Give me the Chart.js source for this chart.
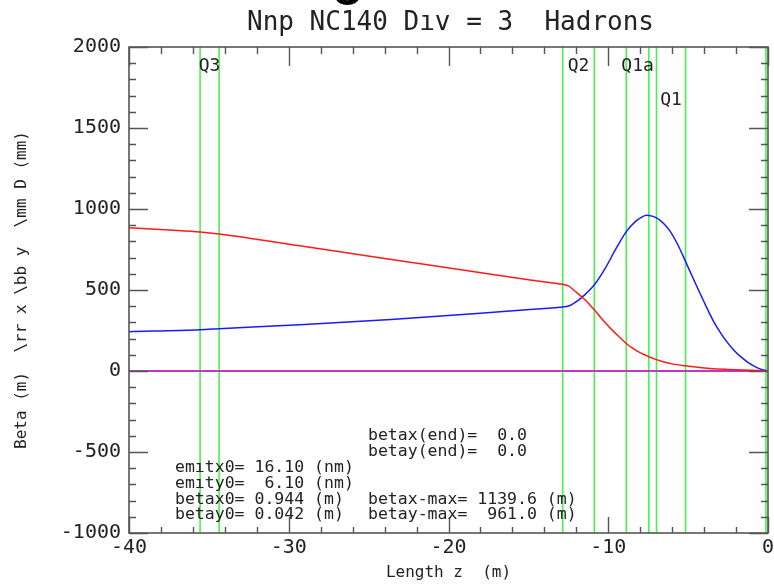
<!DOCTYPE html>
<html>
<head>
<meta charset="utf-8">
<script src="https://cdn.jsdelivr.net/npm/chart.js@4.4.1/dist/chart.umd.min.js"></script>
<style>
  html, body { margin: 0; padding: 0; background: #fff; }
  canvas { display: block; }
</style>
</head>
<body>
<canvas id="c" width="774" height="585"></canvas>
<script>
// Horizontal beta function (red)
const zBetaX = [-40, -37.5, -35.55, -34.36, -29, -24, -19, -14.89, -13.32, -12.85, -12.5, -12.07,
                -11.44, -10.88, -10.19, -9.56, -8.87, -8.5, -8.10, -7.45, -6.98, -6.5, -6.0, -5.18,
                -4.4, -3.61, -2.5, -1.54, -0.27, 0];
const betaX  = [884, 870, 858, 846, 768, 694, 622, 562, 541, 535, 525, 492,
                438, 378, 298, 234, 170, 143, 118, 88, 70, 55, 44, 32,
                23, 16, 10, 6, 2, 0];

// Vertical beta function (blue)
const zBetaY = [-40, -35.55, -34.36, -29, -23.6, -18, -14.89, -13.32, -12.85, -12.49, -11.86, -11.44,
                -10.88, -10.19, -9.56, -8.87, -8.31, -7.9, -7.6, -7.26, -6.98, -6.74, -6.43, -6.12,
                -5.70, -5.18, -4.66, -4.03, -3.40, -2.98, -2.56, -2.15, -1.73, -1.3, -0.90, -0.5,
                -0.27, 0];
const betaY  = [243, 255, 261, 287, 318, 356, 380, 391, 395, 401, 438, 473,
                531, 634, 747, 860, 922, 950, 961, 956, 945, 928, 900, 862,
                790, 680, 566, 432, 305, 237, 178, 130, 90, 57, 32, 13,
                6, 0];

// Dispersion (magenta)
const zDisp = [-40, 0];
const disp  = [0, 0];

// Magnet edges (green verticals) and quadrupole names
const elementEdges = [-35.55, -34.36, -12.85, -10.87, -8.87, -7.46, -6.98, -5.16, -0.13];
const quadNames = ['Q3', 'Q2', 'Q1a', 'Q1'];
const quadStart = [-35.55, -12.85, -8.87, -6.98];
const quadEnd   = [-34.36, -10.87, -7.46, -5.16];
const quadRow   = [0, 0, 0, 1];

// Axis ticks
const xTickValues = [-40, -30, -20, -10, 0];
const yTickValues = [-1000, -500, 0, 500, 1000, 1500, 2000];

// Lattice summary text
const summaryLeft = ['emıtx0= 16.10 (nm)', 'emıty0=  6.10 (nm)', 'betax0= 0.944 (m)', 'betay0= 0.042 (m)'];
const summaryRight = ['betax(end)=  0.0', 'betay(end)=  0.0', '', '', 'betax-max= 1139.6 (m)', 'betay-max=  961.0 (m)'];

const MONO = '"DejaVu Sans Mono", "Liberation Mono", monospace';
const toPts = (xs, ys) => xs.map((x, i) => ({ x: x, y: ys[i] }));

const edgeSets = elementEdges.map(z => ({
  data: [{ x: z, y: -1000 }, { x: z, y: 2000 }],
  borderColor: '#4cf04c',
  borderWidth: 1.6,
  pointRadius: 0,
  order: 10
}));

const framePlugin = {
  id: 'frameAndText',
  afterDraw(chart) {
    const ctx = chart.ctx;
    const { left, right, top, bottom } = chart.chartArea;
    const xs = chart.scales.x, ys = chart.scales.y;
    ctx.save();

    // frame
    ctx.strokeStyle = '#555';
    ctx.lineWidth = 1.6;
    ctx.strokeRect(left, top, right - left, bottom - top);

    // inward tick marks on all four sides
    ctx.lineWidth = 1.4;
    ctx.strokeStyle = '#555';
    ctx.beginPath();
    for (let v = -1000; v <= 2000; v += 100) {
      const py = Math.round(ys.getPixelForValue(v)) + 0.5;
      const len = (v % 500 === 0) ? 19 : 7;
      ctx.moveTo(left, py); ctx.lineTo(left + len, py);
      ctx.moveTo(right, py); ctx.lineTo(right - len, py);
    }
    for (let v = -40; v <= 0; v += 2) {
      const px = Math.round(xs.getPixelForValue(v)) + 0.5;
      const major = (v % 10 === 0);
      ctx.moveTo(px, bottom); ctx.lineTo(px, bottom - (major ? 16 : 6));
      ctx.moveTo(px, top); ctx.lineTo(px, top + (major ? 19 : 7));
    }
    ctx.stroke();

    // title
    ctx.fillStyle = '#222';
    ctx.textAlign = 'center';
    ctx.textBaseline = 'alphabetic';
    ctx.font = '26px ' + MONO;
    ctx.fillText('Nnp NC140 Dıv = 3  Hadrons', (left + right) / 2 + 2, 30);

    // clipped heading glyph above the title
    ctx.fillStyle = '#000';
    ctx.font = 'bold 40px "Liberation Sans", Arial, sans-serif';
    ctx.fillText('O', 347.5, 5);

    // quadrupole names, centred on each magnet
    ctx.fillStyle = '#222';
    ctx.font = '18px ' + MONO;
    quadNames.forEach((name, i) => {
      const cx = (xs.getPixelForValue(quadStart[i]) + xs.getPixelForValue(quadEnd[i])) / 2;
      ctx.fillText(name, cx, quadRow[i] ? 105 : 71);
    });

    // summary block
    ctx.textAlign = 'left';
    ctx.font = '16.5px ' + MONO;
    const rowY = [440, 455.5, 472, 487.5, 503.5, 519];
    summaryRight.forEach((t, i) => { if (t) ctx.fillText(t, 368, rowY[i]); });
    summaryLeft.forEach((t, i) => ctx.fillText(t, 175, rowY[i + 2]));

    ctx.restore();
  }
};

new Chart(document.getElementById('c'), {
  type: 'line',
  data: {
    datasets: [
      ...edgeSets,
      { data: toPts(zDisp, disp), borderColor: '#c038c0', borderWidth: 2, pointRadius: 0, order: 5 },
      { data: toPts(zBetaY, betaY), borderColor: '#1a1aff', borderWidth: 1.5, pointRadius: 0,
        cubicInterpolationMode: 'monotone', order: 2 },
      { data: toPts(zBetaX, betaX), borderColor: '#ff1a1a', borderWidth: 1.5, pointRadius: 0,
        cubicInterpolationMode: 'monotone', order: 1 }
    ]
  },
  options: {
    responsive: false,
    animation: false,
    events: [],
    layout: { padding: { left: 0, right: 6, top: 47, bottom: 0 } },
    plugins: { legend: { display: false }, tooltip: { enabled: false }, title: { display: false } },
    scales: {
      x: {
        type: 'linear', min: -40, max: 0,
        grid: { display: false, drawTicks: false },
        border: { display: false },
        afterBuildTicks(s) { s.ticks = xTickValues.map(v => ({ value: v })); },
        afterFit(s) { s.height = 52; s.paddingLeft = 0; s.paddingRight = 0; },
        ticks: { padding: 3, autoSkip: false, maxRotation: 0, color: '#222',
                 font: { family: MONO, size: 20 }, callback: v => String(v) },
        title: { display: true, text: 'Length z  (m)', color: '#222',
                 font: { family: MONO, size: 16 }, padding: { top: 0, bottom: 3 } }
      },
      y: {
        type: 'linear', min: -1000, max: 2000,
        grid: { display: false, drawTicks: false },
        border: { display: false },
        afterBuildTicks(s) { s.ticks = yTickValues.map(v => ({ value: v })); },
        afterFit(s) { s.width = 129; s.paddingTop = 0; s.paddingBottom = 0; },
        ticks: { padding: 8, autoSkip: false, color: '#222',
                 font: { family: MONO, size: 20 }, callback: v => String(v) },
        title: { display: true, text: 'Beta (m)  \\rr x \\bb y  \\mm D (mm)', color: '#222',
                 font: { family: MONO, size: 16 }, padding: { top: 12, bottom: 0 } }
      }
    }
  },
  plugins: [framePlugin]
});
</script>
</body>
</html>
